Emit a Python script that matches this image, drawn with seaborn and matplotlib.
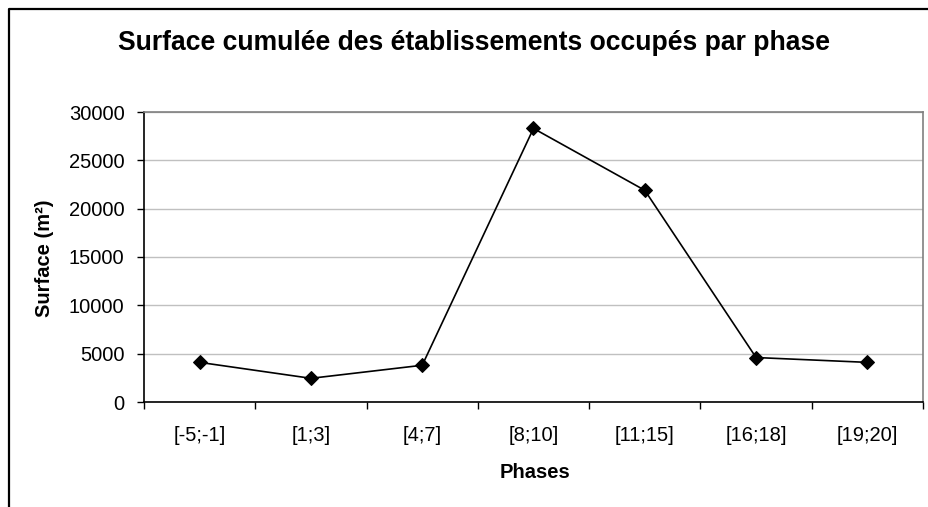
import matplotlib
matplotlib.use("Agg")
import matplotlib.pyplot as plt
from matplotlib.lines import Line2D
from matplotlib.ticker import FixedLocator
import seaborn as sns
import pandas as pd

phases = ["[-5;-1]", "[1;3]", "[4;7]", "[8;10]", "[11;15]", "[16;18]", "[19;20]"]
surface = [4100, 2450, 3800, 28300, 21900, 4600, 4100]
y_ticks = [0, 5000, 10000, 15000, 20000, 25000, 30000]

title = "Surface cumulée des établissements occupés par phase"
xlabel = "Phases"
ylabel = "Surface (m²)"

sns.set_theme(style="white")
plt.rcParams['font.family'] = ['Liberation Sans', 'DejaVu Sans']

W, H = 929, 507
fig = plt.figure(figsize=(W / 100, H / 100), dpi=100)
ax = fig.add_axes([144 / W, 1 - 402 / H, (923 - 144) / W, (402 - 112) / H])

df = pd.DataFrame({"phase": phases, "surface": surface})
sns.lineplot(data=df, x="phase", y="surface", ax=ax, color="black", linewidth=1.2,
             marker="D", markersize=7, markeredgecolor="black", markerfacecolor="black",
             sort=False)

n = len(phases)
ax.set_xlim(-0.5, n - 0.5)
ax.set_ylim(y_ticks[0], y_ticks[-1])
ax.set_yticks(y_ticks)
ax.set_yticklabels([str(v) for v in y_ticks])
ax.set_xticks(range(n))
ax.set_xticklabels(phases)
ax.xaxis.set_minor_locator(FixedLocator([i - 0.5 for i in range(n + 1)]))

ax.grid(axis="y", color="#c0c0c0", linewidth=1.0)
ax.set_axisbelow(True)
ax.tick_params(axis="x", which="major", length=0, pad=17, labelsize=14.5, labelcolor="black")
ax.tick_params(axis="x", which="minor", length=5, width=1, color="black", direction="out", bottom=True)
ax.tick_params(axis="y", which="major", length=5, width=1, color="black", direction="out", left=True,
               pad=9, labelsize=14.5, labelcolor="black")

for s in ["left", "bottom"]:
    ax.spines[s].set_color("black")
    ax.spines[s].set_linewidth(1.2)
for s in ["top", "right"]:
    ax.spines[s].set_color("#808080")
    ax.spines[s].set_linewidth(1.2)
    ax.spines[s].set_visible(True)

ax.set_xlabel("")
ax.set_ylabel("")
fig.text(45 / W, 1 - 258 / H, ylabel, rotation=90, ha="center", va="center",
         fontsize=14.5, fontweight="bold", color="black")
fig.text(535 / W, 1 - 472 / H, xlabel, ha="center", va="center",
         fontsize=14.5, fontweight="bold", color="black")
fig.text(474 / W, 1 - 43 / H, title, ha="center", va="center",
         fontsize=19.1, fontweight="bold", color="black")

# outer chart border (left & top visible)
border = Line2D([9 / W, 9 / W, 1.0], [0.0, 1 - 9 / H, 1 - 9 / H], transform=fig.transFigure,
                color="black", linewidth=1.6)
fig.add_artist(border)

fig.savefig("out.png", dpi=100, facecolor="white")
